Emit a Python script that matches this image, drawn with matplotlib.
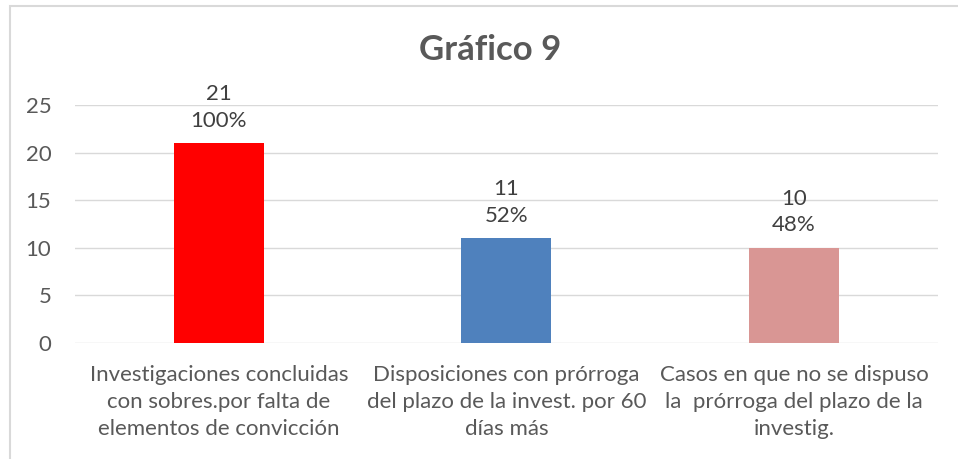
import matplotlib.pyplot as plt
from matplotlib.patches import Rectangle

categorias = ["Investigaciones concluidas\ncon sobres.por falta de\nelementos de convicción",
              "Disposiciones con prórroga\ndel plazo de la invest. por 60\ndías más",
              "Casos en que no se dispuso\nla  prórroga del plazo de la\ninvestig."]
valores = [21, 11, 10]
porcentajes = ["100%", "52%", "48%"]
colores = ["#FF0000", "#4F81BD", "#D99694"]

plt.rcParams['font.family'] = ['Lato', 'DejaVu Sans']
gris = "#595959"

fig = plt.figure(figsize=(9.58, 4.59), dpi=100)
ax = fig.add_axes([0.0783, 0.2527, 0.9007, 0.5183])

x = range(len(valores))
ax.bar(x, valores, width=0.313, color=colores, zorder=3)
for i, v in enumerate(valores):
    ax.annotate(f"{v}\n{porcentajes[i]}", (i, v), xytext=(0, 9), textcoords="offset points",
                ha="center", va="bottom", fontsize=16, color="#404040", linespacing=1.4)

ax.set_xlim(-0.5, 2.5)
ax.set_ylim(0, 25)
ax.set_yticks([0, 5, 10, 15, 20, 25])
ax.set_xticks(list(x))
ax.set_xticklabels(categorias, fontsize=16, color=gris, linespacing=1.42)
ax.tick_params(axis="both", length=0, colors=gris, labelsize=16)
ax.tick_params(axis="x", pad=16)
ax.tick_params(axis="y", pad=17)
ax.grid(axis="y", color="#D9D9D9", linewidth=1, zorder=0)
for s in ax.spines.values():
    s.set_visible(False)

fig.text(0.512, 0.89, "Gráfico 9", ha="center", va="center", fontsize=25,
         fontweight="bold", color=gris)

# borde del area del grafico
fig.patches.append(Rectangle((10 / 958, -0.1), 1.2, 1 - 6 / 459 + 0.1, transform=fig.transFigure,
                             fill=False, edgecolor="#D9D9D9", linewidth=1.5))

fig.savefig("out.png", dpi=100)
